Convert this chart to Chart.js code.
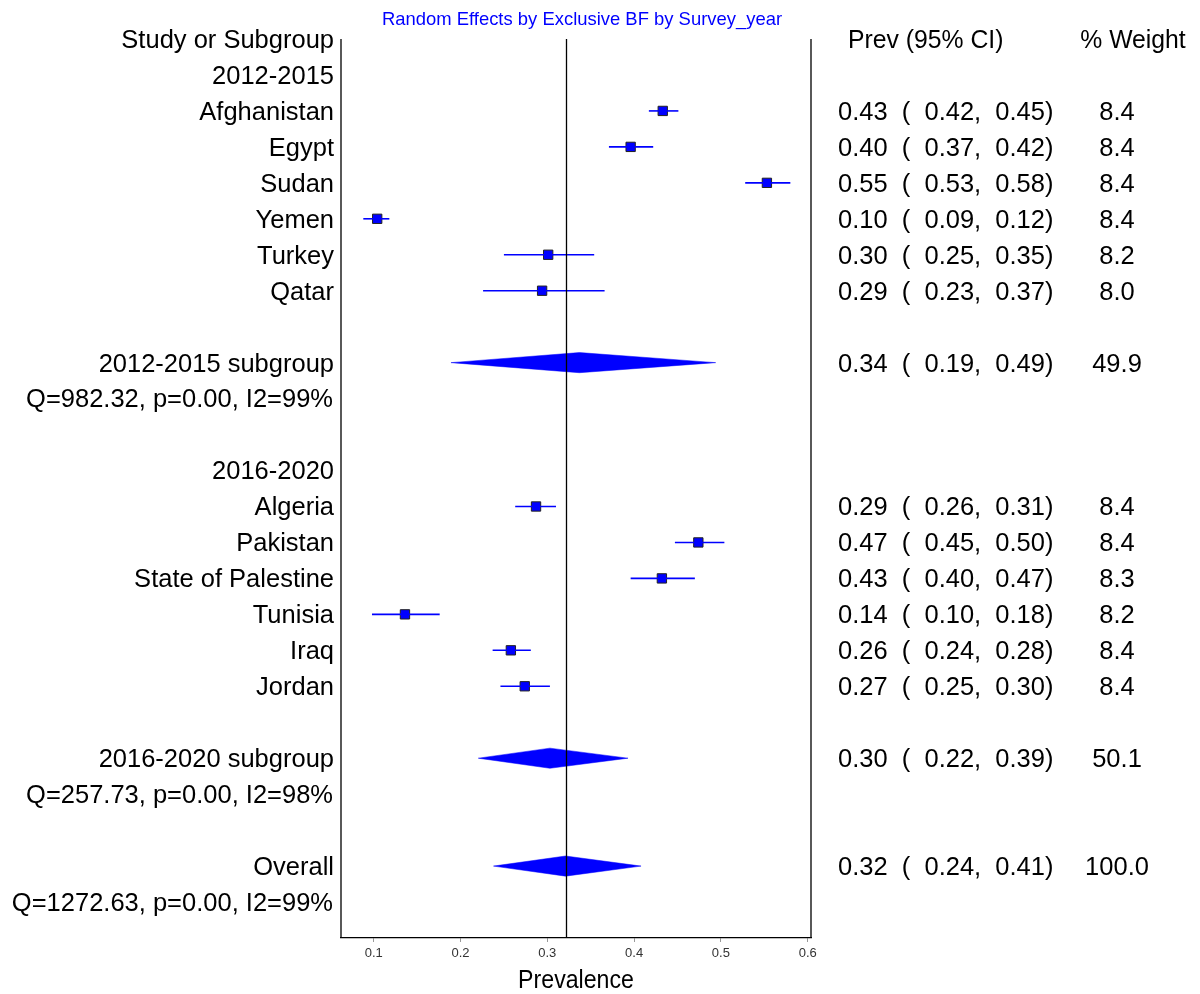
<!DOCTYPE html>
<html>
<head>
<meta charset="utf-8">
<script src="https://cdn.jsdelivr.net/npm/chart.js@4.4.1/dist/chart.umd.min.js"></script>
<style>
  body { margin: 0; background: #fff; }
  canvas { display: block; }
</style>
</head>
<body>
<canvas id="forest" width="1200" height="994" style="width:1200px;height:994px"></canvas>
<script>
// study rows (row 0 is the column header line)
const studies   = ['Afghanistan', 'Egypt', 'Sudan', 'Yemen', 'Turkey', 'Qatar',
                   'Algeria', 'Pakistan', 'State of Palestine', 'Tunisia', 'Iraq', 'Jordan']
const studyRows = [2, 3, 4, 5, 6, 7, 13, 14, 15, 16, 17, 18]
const prev      = [0.433, 0.396, 0.553, 0.104, 0.301, 0.294, 0.287, 0.474, 0.432, 0.136, 0.258, 0.274]
const lower     = [0.417, 0.371, 0.528, 0.088, 0.250, 0.226, 0.263, 0.447, 0.396, 0.098, 0.237, 0.246]
const upper     = [0.451, 0.422, 0.580, 0.118, 0.354, 0.366, 0.310, 0.504, 0.470, 0.176, 0.281, 0.303]
const weights   = ['8.4', '8.4', '8.4', '8.4', '8.2', '8.0', '8.4', '8.4', '8.3', '8.2', '8.4', '8.4']

// pooled estimates (diamonds)
const pooledNames = ['2012-2015 subgroup', '2016-2020 subgroup', 'Overall']
const pooledRows  = [9, 20, 23]
const pooledEst   = [0.337, 0.303, 0.321]
const pooledLo    = [0.189, 0.2205, 0.238]
const pooledHi    = [0.494, 0.393, 0.408]
const pooledW     = ['49.9', '50.1', '100.0']
const hetText     = ['Q=982.32, p=0.00, I2=99%', 'Q=257.73, p=0.00, I2=98%', 'Q=1272.63, p=0.00, I2=99%']
const hetRows     = [10, 21, 24]

const groupNames = ['2012-2015', '2016-2020']
const groupRows  = [1, 12]

const xTicks = [0.1, 0.2, 0.3, 0.4, 0.5, 0.6]

const BLUE = '#0000ff'
const FONT = '"Liberation Sans", Arial, sans-serif'
const half = 0.28   // diamond half height, in rows

const datasets = []

// confidence interval lines
studies.forEach((s, i) => {
  datasets.push({
    type: 'line',
    data: [{ x: lower[i], y: studyRows[i] }, { x: upper[i], y: studyRows[i] }],
    borderColor: BLUE,
    borderWidth: 1.6,
    pointRadius: 0,
    fill: false
  })
})

// diamonds
pooledNames.forEach((s, i) => {
  const r = pooledRows[i]
  datasets.push({
    type: 'line',
    data: [
      { x: pooledLo[i], y: r },
      { x: pooledEst[i], y: r - half },
      { x: pooledHi[i], y: r },
      { x: pooledEst[i], y: r + half },
      { x: pooledLo[i], y: r }
    ],
    borderColor: BLUE,
    borderWidth: 0.5,
    backgroundColor: BLUE,
    pointRadius: 0,
    tension: 0,
    fill: 'shape'
  })
})

// point estimates
datasets.push({
  type: 'scatter',
  data: studies.map((s, i) => ({ x: prev[i], y: studyRows[i] })),
  pointStyle: 'rect',
  pointRadius: 6.6,
  backgroundColor: BLUE,
  borderColor: '#222',
  borderWidth: 1
})

function txt(ctx, t, x, y, size, align, sx, color) {
  ctx.save()
  ctx.font = size + 'px ' + FONT
  ctx.fillStyle = color || '#000'
  ctx.textAlign = align
  ctx.textBaseline = 'middle'
  ctx.translate(x, y)
  ctx.scale(sx, 1)
  ctx.fillText(t, 0, 0)
  ctx.restore()
}

const ciStr = (e, l, h) => e.toFixed(2) + '  (  ' + l.toFixed(2) + ',  ' + h.toFixed(2) + ')'

const forestText = {
  id: 'forestText',
  afterDatasetsDraw(chart) {
    const { ctx, chartArea: a, scales: { x } } = chart
    ctx.save()
    ctx.strokeStyle = '#000'
    ctx.lineWidth = 1.3
    ctx.beginPath()
    const vx = Math.round(x.getPixelForValue(pooledEst[2])) + 0.5
    ctx.moveTo(vx, a.top); ctx.lineTo(vx, a.bottom)
    ctx.moveTo(a.left, a.top); ctx.lineTo(a.left, a.bottom)
    ctx.moveTo(a.right, a.top); ctx.lineTo(a.right, a.bottom)
    ctx.stroke()
    ctx.restore()
  },
  afterDraw(chart) {
    const { ctx, chartArea: a, scales: { x, y } } = chart
    const L = 334, S = 25, SX = 1.02
    const ry = r => y.getPixelForValue(r) + 2

    txt(ctx, 'Study or Subgroup', L, ry(0), S, 'right', SX)
    txt(ctx, 'Prev (95% CI)', 848, ry(0), S, 'left', 0.99)
    txt(ctx, '% Weight', 1133, ry(0), S, 'center', 0.99)

    groupNames.forEach((g, i) => txt(ctx, g, L, ry(groupRows[i]), S, 'right', SX))
    studies.forEach((s, i) => {
      const yy = ry(studyRows[i])
      txt(ctx, s, L, yy, S, 'right', SX)
      txt(ctx, ciStr(prev[i], lower[i], upper[i]), 838, yy, S, 'left', SX)
      txt(ctx, weights[i], 1117, yy, S, 'center', SX)
    })
    pooledNames.forEach((s, i) => {
      const yy = ry(pooledRows[i])
      txt(ctx, s, L, yy, S, 'right', SX)
      txt(ctx, ciStr(pooledEst[i], pooledLo[i], pooledHi[i]), 838, yy, S, 'left', SX)
      txt(ctx, pooledW[i], 1117, yy, S, 'center', SX)
    })
    hetText.forEach((h, i) => txt(ctx, h, L - 1, ry(hetRows[i]), S, 'right', SX))

    txt(ctx, 'Random Effects by Exclusive BF by Survey_year', 582, 20, 19, 'center', 0.97, BLUE)
    txt(ctx, 'Prevalence', (a.left + a.right) / 2, 981, 26, 'center', 0.89)
  }
}

new Chart(document.getElementById('forest'), {
  type: 'scatter',
  data: { datasets },
  options: {
    responsive: false,
    devicePixelRatio: 1,
    animation: false,
    layout: { padding: { left: 341, right: 389, top: 39, bottom: 0 } },
    plugins: { legend: { display: false }, tooltip: { enabled: false } },
    scales: {
      x: {
        type: 'linear',
        min: 0.0623,
        max: 0.6038,
        afterFit: s => { s.height = 56 },
        afterBuildTicks: s => { s.ticks = xTicks.map(v => ({ value: v })) },
        border: { display: true, color: '#000', width: 1.3 },
        grid: { display: true, drawOnChartArea: false, drawTicks: true, tickLength: 4, color: '#999' },
        ticks: {
          color: '#333',
          padding: 4,
          maxRotation: 0,
          font: { family: FONT, size: 13 },
          callback: v => v.toFixed(1)
        }
      },
      y: {
        type: 'linear',
        min: 0,
        max: 25,
        reverse: true,
        display: false
      }
    }
  },
  plugins: [forestText]
})
</script>
</body>
</html>
